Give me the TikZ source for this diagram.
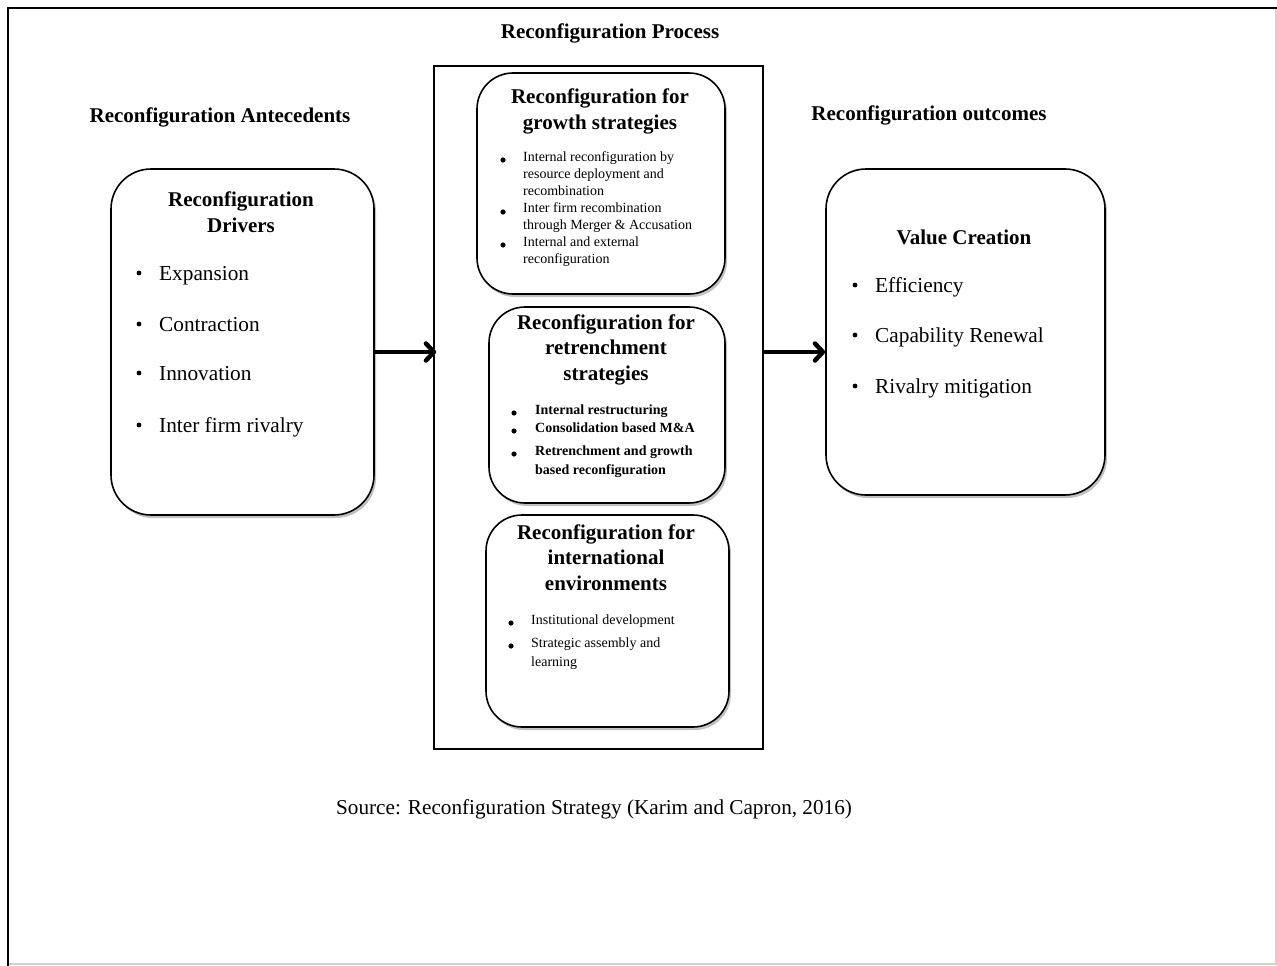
\documentclass[tikz,border=0pt]{standalone}
\usepackage{fontspec}
\setmainfont{Liberation Serif}
\usetikzlibrary{arrows.meta,shadows}
\begin{document}
\begin{tikzpicture}[x=1pt,y=-1pt,
  rbox/.style={draw, line width=1.6pt, rounded corners=36pt, fill=white, inner sep=0pt,
    drop shadow={shadow xshift=2pt, shadow yshift=-3pt, opacity=0.35, fill=black!70}},
  head/.style={font=\fontsize{21}{25}\selectfont\bfseries, inner sep=0pt, anchor=base},
  big/.style={font=\fontsize{21.3}{25}\selectfont, inner sep=0pt, anchor=base west},
  small/.style={font=\fontsize{14}{17}\selectfont, inner sep=0pt, anchor=base west},
  smallbf/.style={font=\fontsize{14}{17}\selectfont\bfseries, inner sep=0pt, anchor=base west},
  flow/.style={line width=3.2pt, line cap=butt,
    -{Straight Barb[length=8pt,width=17pt,line width=4.5pt 0,round]}}]
\useasboundingbox (0,0) rectangle (1277,966);

% page frame
\draw[black!18, line width=2pt] (1276,8) -- (1276,964) -- (8,964);
\draw[line width=2pt] (8,966) -- (8,8) -- (1277,8);

% column headings
\node[head] (hproc) at (610,39) {Reconfiguration Process};
\node[head] (hant) at (220,122) {Reconfiguration Antecedents};
\node[head] (hout) at (929,121) {Reconfiguration outcomes};

% process container
\node[draw, line width=1.6pt, minimum width=329, minimum height=683, inner sep=0pt] (proc) at (598.5,407.5) {};

% boxes
\node[rbox, rounded corners=40pt, minimum width=263, minimum height=346] (drv) at (242.5,342) {};
\node[rbox, minimum width=248, minimum height=221] (grow) at (601,183.5) {};
\node[rbox, minimum width=236, minimum height=196] (retr) at (607,405) {};
\node[rbox, minimum width=243, minimum height=212] (intl) at (607.5,621) {};
\node[rbox, rounded corners=40pt, minimum width=279, minimum height=326] (val) at (965.5,332) {};

% connectors
\coordinate (lvl) at (0,352);
\draw[flow, shorten >=-3pt] (drv.east |- lvl) -- (proc.west |- lvl);
\draw[flow] (proc.east |- lvl) -- (val.west |- lvl);

% drivers
\node[head] (drvt1) at (241,206) {Reconfiguration};
\node[head] (drvt2) at (241,232) {Drivers};
\foreach \y/\t [count=\i] in {280/Expansion, 331/Contraction, 380/Innovation, 432/Inter firm rivalry}{
  \node[big] (drvi\i) at (159,\y) {\t};
  \fill (139,\y-7) circle (2.4);
}

% growth strategies
\node[head] (growt1) at (600,103) {Reconfiguration for};
\node[head] (growt2) at (600,129) {growth strategies};
\foreach \t [count=\i from 0] in {Internal reconfiguration by, resource deployment and, recombination, Inter firm recombination, through Merger \& Accusation, Internal and external, reconfiguration}
  \node[small] (growi\i) at (523,161+17*\i) {\t};
\foreach \y in {160,212,245} \fill (503,\y) circle (2.6);

% retrenchment strategies
\node[head] (retrt1) at (606,329) {Reconfiguration for};
\node[head] (retrt2) at (606,354) {retrenchment};
\node[head] (retrt3) at (606,380) {strategies};
\foreach \y/\t [count=\i] in {414/Internal restructuring, 432/Consolidation based M\&A, 455/Retrenchment and growth, 474/based reconfiguration}
  \node[smallbf] (retri\i) at (535,\y) {\t};
\foreach \y in {413,431,454} \fill (514,\y) circle (2.6);

% international environments
\node[head] (intlt1) at (606,539) {Reconfiguration for};
\node[head] (intlt2) at (606,564) {international};
\node[head] (intlt3) at (606,590) {environments};
\foreach \y/\t [count=\i] in {624/Institutional development, 647/Strategic assembly and, 666/learning}
  \node[small] (intli\i) at (531,\y) {\t};
\foreach \y in {623,646} \fill (511,\y) circle (2.6);

% value creation
\node[head] (valt) at (964,244) {Value Creation};
\foreach \y/\t [count=\i] in {292/Efficiency, 342/Capability Renewal, 393/Rivalry mitigation}{
  \node[big] (vali\i) at (875,\y) {\t};
  \fill (855,\y-7) circle (2.4);
}

% source line
\node[font=\fontsize{21.2}{25}\selectfont, inner sep=0pt, anchor=base] (src) at (594,814)
  {Source: Reconfiguration Strategy (Karim and Capron, 2016)};
\end{tikzpicture}
\end{document}
